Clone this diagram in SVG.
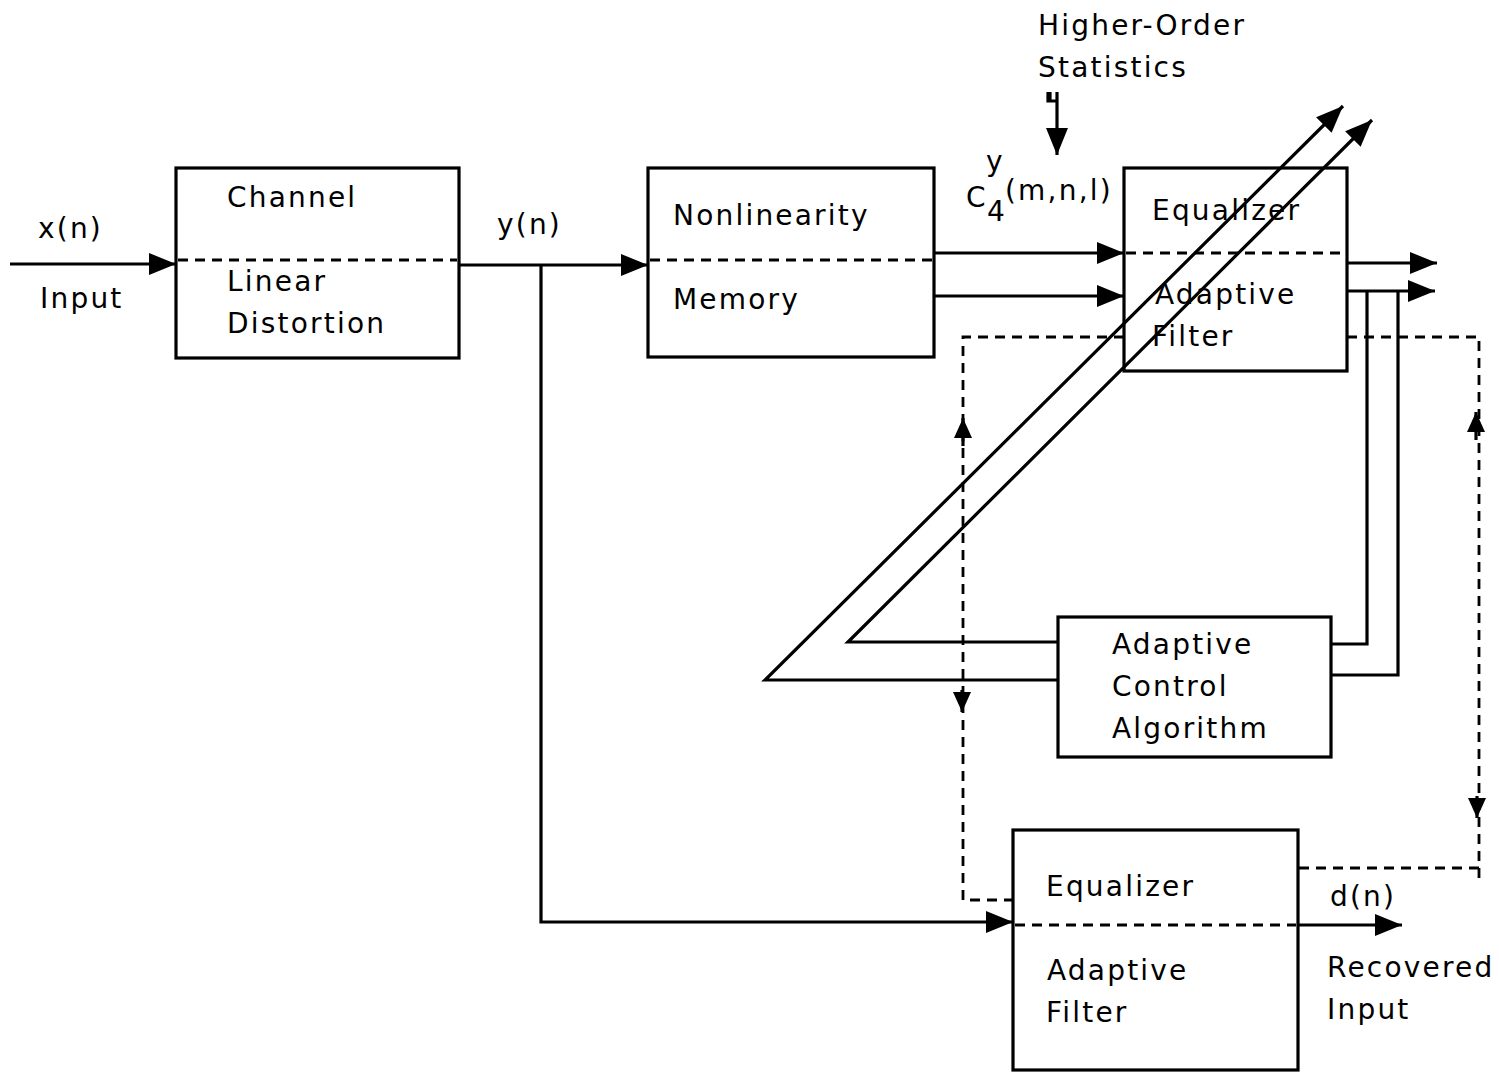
<svg xmlns="http://www.w3.org/2000/svg" width="1499" height="1072" viewBox="0 0 1499 1072">
<style>
text{font-family:"DejaVu Sans","Liberation Sans",sans-serif;font-size:28px;letter-spacing:2.2px;fill:#000}
.box{fill:none;stroke:#000;stroke-width:3.2}
.ln{fill:none;stroke:#000;stroke-width:3.2}
.dash{fill:none;stroke:#000;stroke-width:2.8;stroke-dasharray:10 7}
</style>
<defs>
<marker id="ah" markerUnits="userSpaceOnUse" markerWidth="30" markerHeight="24" refX="27" refY="12" orient="auto">
<path d="M0,1 L27,12 L0,23 z" fill="#000"/>
</marker>
<marker id="ahs" markerUnits="userSpaceOnUse" markerWidth="22" markerHeight="20" refX="20" refY="10" orient="auto">
<path d="M0,1 L20,10 L0,19 z" fill="#000"/>
</marker>
</defs>
<rect width="1499" height="1072" fill="#fff"/>

<g id="connectors">
<line class="ln" x1="10" y1="264" x2="176" y2="264" marker-end="url(#ah)"/>
<line class="ln" x1="459" y1="265" x2="648" y2="265" marker-end="url(#ah)"/>
<polyline class="ln" points="541,265 541,922 1013,922" marker-end="url(#ah)"/>
<line class="ln" x1="934" y1="253" x2="1124" y2="253" marker-end="url(#ah)"/>
<line class="ln" x1="934" y1="296" x2="1124" y2="296" marker-end="url(#ah)"/>
<line class="ln" x1="1057" y1="92" x2="1057" y2="155" marker-end="url(#ah)"/>
<path class="ln" d="M1048,92 L1048,101 L1057,101 M1050,92 L1050,100" stroke-width="3"/>
<line class="ln" x1="1347" y1="263" x2="1437" y2="263" marker-end="url(#ah)"/>
<line class="ln" x1="1347" y1="291" x2="1435" y2="291" marker-end="url(#ah)"/>
<polyline class="ln" points="1367,291 1367,644 1331,644"/>
<polyline class="ln" points="1398,291 1398,675 1331,675"/>
<polyline class="ln" points="1058,642 848,642 1372,120" marker-end="url(#ah)"/>
<polyline class="ln" points="1058,680 765,680 1343,106" marker-end="url(#ah)"/>
<line class="ln" x1="1298" y1="925" x2="1402" y2="925" marker-end="url(#ah)"/>
<polyline class="dash" points="1124,337 963,337 963,900 1013,900"/>
<line class="ln" x1="963" y1="446" x2="963" y2="418" marker-end="url(#ahs)"/>
<line class="ln" x1="962" y1="690" x2="962" y2="712" marker-end="url(#ahs)"/>
<polyline class="dash" points="1347,337 1479,337 1479,885"/>
<line class="dash" x1="1479" y1="868" x2="1298" y2="868"/>
<line class="ln" x1="1476" y1="440" x2="1476" y2="412" marker-end="url(#ahs)"/>
<line class="ln" x1="1477" y1="796" x2="1477" y2="818" marker-end="url(#ahs)"/>
</g>

<g id="channel">
<rect class="box" x="176" y="168" width="283" height="190"/>
<line class="dash" x1="178" y1="260" x2="457" y2="260"/>
<text x="227" y="207">Channel</text>
<text x="227" y="291">Linear</text>
<text x="227" y="333">Distortion</text>
</g>

<g id="nonlinearity">
<rect class="box" x="648" y="168" width="286" height="189"/>
<line class="dash" x1="650" y1="260" x2="932" y2="260"/>
<text x="673" y="225">Nonlinearity</text>
<text x="673" y="309">Memory</text>
</g>

<g id="equalizer-top">
<rect class="box" x="1124" y="168" width="223" height="203"/>
<line class="dash" x1="1126" y1="253" x2="1345" y2="253"/>
<text x="1152" y="220">Equalizer</text>
<text x="1155" y="304">Adaptive</text>
<text x="1152" y="346">Filter</text>
</g>

<g id="adaptive-control">
<rect class="box" x="1058" y="617" width="273" height="140"/>
<text x="1112" y="654">Adaptive</text>
<text x="1112" y="696">Control</text>
<text x="1112" y="738">Algorithm</text>
</g>

<g id="equalizer-bottom">
<rect class="box" x="1013" y="830" width="285" height="240"/>
<line class="dash" x1="1015" y1="925" x2="1296" y2="925"/>
<text x="1046" y="896">Equalizer</text>
<text x="1047" y="980">Adaptive</text>
<text x="1046" y="1022">Filter</text>
</g>

<g id="labels">
<text x="38" y="238">x(n)</text>
<text x="40" y="308">Input</text>
<text x="497" y="234">y(n)</text>
<text x="1038" y="35">Higher-Order</text>
<text x="1038" y="77">Statistics</text>
<text x="966" y="207">C</text>
<text x="987" y="221" font-size="20" letter-spacing="0">4</text>
<text x="986" y="171" font-size="20" letter-spacing="0">y</text>
<text x="1005" y="200" letter-spacing="1">(m,n,l)</text>
<text x="1330" y="906">d(n)</text>
<text x="1327" y="977">Recovered</text>
<text x="1327" y="1019">Input</text>
</g>
</svg>
